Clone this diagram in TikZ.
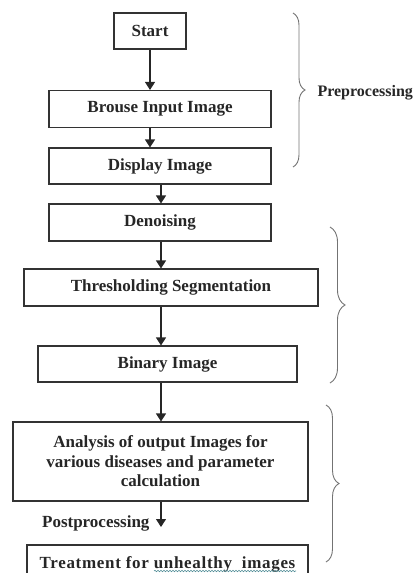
\documentclass[tikz,border=0pt]{standalone}
\usepackage{fontspec}
\setmainfont{Liberation Serif}
\usetikzlibrary{arrows.meta,decorations.pathreplacing,decorations.pathmorphing}

\begin{document}
\begin{tikzpicture}[x=1pt,y=-1pt]
            \useasboundingbox (0,0) rectangle (417,573);
            \begin{scope}[
                    every node/.style={font=\fontsize{17}{19.5}\selectfont\bfseries, text=black!85},
                    box/.style={draw=black!80, line width=1.1pt, inner sep=0pt},
                    flow/.style={draw=black!85, line width=1.1pt, -{Triangle[width=10pt,length=8pt]}},
                    curly/.style={draw=black!55, line width=0.9pt, decorate, decoration={brace, amplitude=#1}}
                ]

                \node[box, minimum width=72pt, minimum height=36pt] (start) at (150,31) {Start};
                \node[box, minimum width=222pt, minimum height=37pt] (browse) at (160,109) {Brouse Input Image};
                \node[box, minimum width=222pt, minimum height=36pt] (display) at (160,166) {Display Image};
                \node[box, minimum width=222pt, minimum height=37pt] (denoise) at (160,222.5) {Denoising};
                \node[box, minimum width=294pt, minimum height=37pt] (thresh) at (171,287.5) {Thresholding Segmentation};
                \node[box, minimum width=259pt, minimum height=36pt] (binary) at (167.5,364) {Binary Image};
                \node[box, minimum width=295pt, minimum height=79pt, align=center] (analysis) at (160.5,461.5)
                    {Analysis of output Images for\\various diseases and parameter\\calculation};
                \node[box, minimum width=281pt, minimum height=38pt] (treat) at (167.5,564)
                    {\addfontfeatures{LetterSpace=4}Treatment for unhealthy\ \ images};

                \coordinate (postend) at (161,527);
                \node[anchor=east] (post) at (153,523) {Postprocessing};

                \draw[flow] (start) -- (start |- browse.north);
                \draw[flow] (browse.south -| start) -- (display.north -| start);
                \draw[flow] (display.south -| postend) -- (denoise.north -| postend);
                \draw[flow] (denoise.south -| postend) -- (thresh.north -| postend);
                \draw[flow] (thresh.south -| postend) -- (binary.north -| postend);
                \draw[flow] (binary.south -| postend) -- (analysis.north -| postend);
                \draw[flow] (analysis.south -| postend) -- (postend);

                % grouping braces
                \draw[curly=12pt] (293,13) -- (293,167);
                \node[anchor=west, font=\fontsize{16}{18}\selectfont\bfseries] (pre) at (314,93) {Preprocessing};
                \draw[curly=15pt] (330,227) -- (330,383);
                \draw[curly=13pt] (326,405) -- (326,562);

                % spelling squiggle
                \draw[draw={rgb,255:red,80;green,140;blue,150}, line width=0.6pt, decorate,
                    decoration={snake, amplitude=0.7pt, segment length=3pt}] (154,571) -- (296,571);
            \end{scope}
        \end{tikzpicture}
\end{document}
